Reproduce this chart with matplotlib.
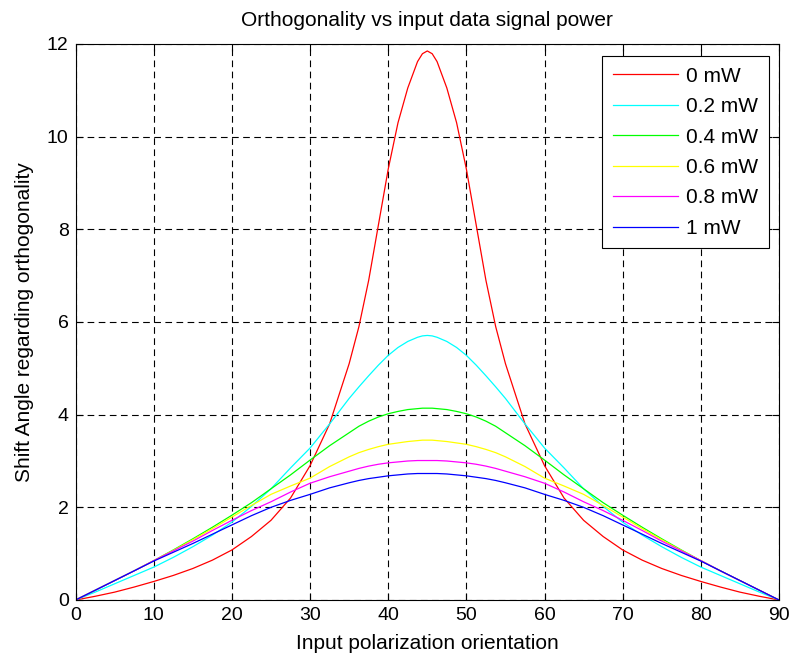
import matplotlib
matplotlib.use("Agg")
import matplotlib.pyplot as plt

plt.rcParams['font.family'] = ['Liberation Sans', 'DejaVu Sans']

x = [0, 2.5, 5, 7.5, 10, 12.5, 15, 17.5, 20, 22.5, 25, 27.5, 30, 32.5, 35,
     36.25, 37.5, 38.75, 40, 41.25, 42.5, 43.75, 44.375, 45, 45.625, 46.25, 47.5, 48.75, 50,
     51.25, 52.5, 53.75,
     55, 57.5, 60, 62.5, 65, 67.5, 70, 72.5, 75, 77.5, 80, 82.5, 85, 87.5, 90]

p0_0 = [0, 0.08, 0.17, 0.28, 0.40, 0.53, 0.68, 0.86, 1.08, 1.37, 1.72, 2.2, 2.9, 3.8, 5.1,
        5.9, 6.9, 8.1, 9.3, 10.3, 11.05, 11.62, 11.79, 11.85, 11.79, 11.62, 11.05, 10.3, 9.3,
        8.1, 6.9, 5.9,
        5.1, 3.8, 2.9, 2.2, 1.72, 1.37, 1.08, 0.86, 0.68, 0.53, 0.40, 0.28, 0.17, 0.08, 0]
p0_2 = [0, 0.17, 0.35, 0.53, 0.71, 0.92, 1.15, 1.4, 1.68, 2.02, 2.4, 2.85, 3.28, 3.8, 4.35,
        4.6, 4.84, 5.07, 5.28, 5.45, 5.58, 5.67, 5.70, 5.71, 5.70, 5.67, 5.58, 5.45, 5.28,
        5.07, 4.84, 4.6,
        4.35, 3.8, 3.28, 2.85, 2.4, 2.02, 1.68, 1.4, 1.15, 0.92, 0.71, 0.53, 0.35, 0.17, 0]
p0_4 = [0, 0.21, 0.42, 0.63, 0.85, 1.08, 1.32, 1.57, 1.83, 2.1, 2.4, 2.7, 3.02, 3.33, 3.61,
        3.75, 3.86, 3.95, 4.02, 4.07, 4.11, 4.13, 4.14, 4.14, 4.14, 4.13, 4.11, 4.07, 4.02,
        3.95, 3.86, 3.75,
        3.61, 3.33, 3.02, 2.7, 2.4, 2.1, 1.83, 1.57, 1.32, 1.08, 0.85, 0.63, 0.42, 0.21, 0]
p0_6 = [0, 0.21, 0.42, 0.63, 0.85, 1.07, 1.3, 1.54, 1.79, 2.04, 2.28, 2.46, 2.63, 2.88, 3.09,
        3.18, 3.25, 3.31, 3.36, 3.39, 3.42, 3.44, 3.45, 3.45, 3.45, 3.44, 3.42, 3.39, 3.36,
        3.31, 3.25, 3.18,
        3.09, 2.88, 2.63, 2.46, 2.28, 2.04, 1.79, 1.54, 1.3, 1.07, 0.85, 0.63, 0.42, 0.21, 0]
p0_8 = [0, 0.21, 0.42, 0.63, 0.85, 1.06, 1.27, 1.5, 1.72, 1.93, 2.12, 2.33, 2.52, 2.66, 2.78,
        2.84, 2.89, 2.93, 2.96, 2.98, 3.0, 3.01, 3.01, 3.01, 3.01, 3.01, 3.0, 2.98, 2.96,
        2.93, 2.89, 2.84,
        2.78, 2.66, 2.52, 2.33, 2.12, 1.93, 1.72, 1.5, 1.27, 1.06, 0.85, 0.63, 0.42, 0.21, 0]
p1_0 = [0, 0.21, 0.42, 0.63, 0.84, 1.03, 1.22, 1.42, 1.62, 1.82, 2.0, 2.15, 2.28, 2.42, 2.53,
        2.58, 2.62, 2.65, 2.68, 2.7, 2.72, 2.73, 2.73, 2.73, 2.73, 2.73, 2.72, 2.7, 2.68,
        2.65, 2.62, 2.58,
        2.53, 2.42, 2.28, 2.15, 2.0, 1.82, 1.62, 1.42, 1.22, 1.03, 0.84, 0.63, 0.42, 0.21, 0]

series = [p0_0, p0_2, p0_4, p0_6, p0_8, p1_0]
labels = ['0 mW', '0.2 mW', '0.4 mW', '0.6 mW', '0.8 mW', '1 mW']
colors = ['#ff0000', '#00ffff', '#00ff00', '#ffff00', '#ff00ff', '#0000ff']

xticks = [0, 10, 20, 30, 40, 50, 60, 70, 80, 90]
yticks = [0, 2, 4, 6, 8, 10, 12]

fig = plt.figure(figsize=(7.9, 6.57), dpi=100)
ax = fig.add_axes([75.6 / 790, 1 - 600 / 657, 703.4 / 790, 556 / 657])

for s, lab, c in zip(series, labels, colors):
    ax.plot(x, s, color=c, lw=0.9, label=lab)

ax.set_xlim(0, 90)
ax.set_ylim(0, 12)
ax.set_xticks(xticks)
ax.set_yticks(yticks)
ax.tick_params(direction='in', top=True, right=True, labelsize=14, length=5, pad=5)
ax.grid(True, color='black', linestyle=(0, (6, 4)), linewidth=0.8)
for sp in ax.spines.values():
    sp.set_linewidth(0.8)

ax.set_title('Orthogonality vs input data signal power', fontsize=15, pad=13)
ax.set_xlabel('Input polarization orientation', fontsize=15, labelpad=7)
ax.set_ylabel('Shift Angle regarding orthogonality', fontsize=15, labelpad=9)

leg = ax.legend(loc='upper right', bbox_to_anchor=(0.9858, 0.978), borderaxespad=0,
                fancybox=False, framealpha=1, edgecolor='black', fontsize=15,
                handlelength=3.12, labelspacing=0.55, handletextpad=0.43,
                borderpad=0.5)
leg.get_frame().set_linewidth(0.8)

fig.savefig('out.png', dpi=100)
